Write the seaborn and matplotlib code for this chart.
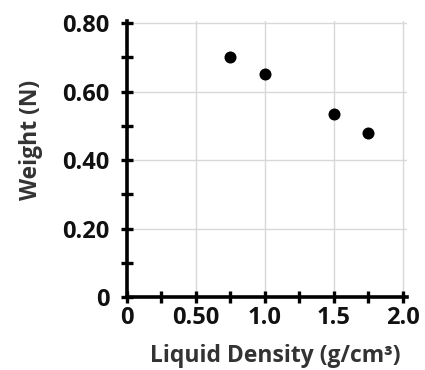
import matplotlib
matplotlib.use("Agg")
import matplotlib.pyplot as plt
import seaborn as sns
import pandas as pd

# Data
density = [0.75, 1.0, 1.5, 1.75]
weight = [0.70, 0.65, 0.535, 0.48]

x_major = [0, 0.5, 1.0, 1.5, 2.0]
x_major_labels = ["0", "0.50", "1.0", "1.5", "2.0"]
x_minor = [0.25, 0.75, 1.25, 1.75]
y_major = [0, 0.2, 0.4, 0.6, 0.8]
y_major_labels = ["0", "0.20", "0.40", "0.60", "0.80"]
y_minor = [0.1, 0.3, 0.5, 0.7]

df = pd.DataFrame({"density": density, "weight": weight})

sns.set_style("white")
plt.rcParams["font.family"] = ["Open Sans", "DejaVu Sans"]

fig = plt.figure(figsize=(4.25, 3.7), dpi=100)
ax = fig.add_axes([127 / 425, 73 / 370, 280 / 425, 275.7 / 370])

sns.scatterplot(data=df, x="density", y="weight", color="black", s=75,
                edgecolor="black", linewidth=0, ax=ax, zorder=3)

ax.set_xlim(0, 2.03)
ax.set_ylim(0, 0.805)

ax.set_xticks(x_major)
ax.set_xticklabels(x_major_labels)
ax.set_xticks(x_minor, minor=True)
ax.set_yticks(y_major)
ax.set_yticklabels(y_major_labels)
ax.set_yticks(y_minor, minor=True)

ax.grid(True, which="major", color="#d8d8d8", linewidth=1)
ax.set_axisbelow(True)

for side in ["top", "right"]:
    ax.spines[side].set_visible(False)
for side in ["left", "bottom"]:
    ax.spines[side].set_linewidth(2.6)
    ax.spines[side].set_color("black")

ax.tick_params(which="both", bottom=True, left=True, direction="inout",
               length=9, width=2.4, color="black")
ax.tick_params(axis="y", which="major", pad=8, labelsize=17, labelcolor="#111111")
ax.tick_params(axis="x", which="major", pad=2, labelsize=17, labelcolor="#111111")
for lab in ax.get_xticklabels() + ax.get_yticklabels():
    lab.set_fontweight("bold")

ax.set_xlabel("Liquid Density (g/cm³)", fontsize=16.5, fontweight="bold", color="#333333")
ax.set_ylabel("Weight (N)", fontsize=16.5, fontweight="bold", color="#333333")
ax.xaxis.set_label_coords(0.53, -0.172)
ax.yaxis.set_label_coords(-0.30, 0.57)

fig.savefig("out.png", dpi=100)
